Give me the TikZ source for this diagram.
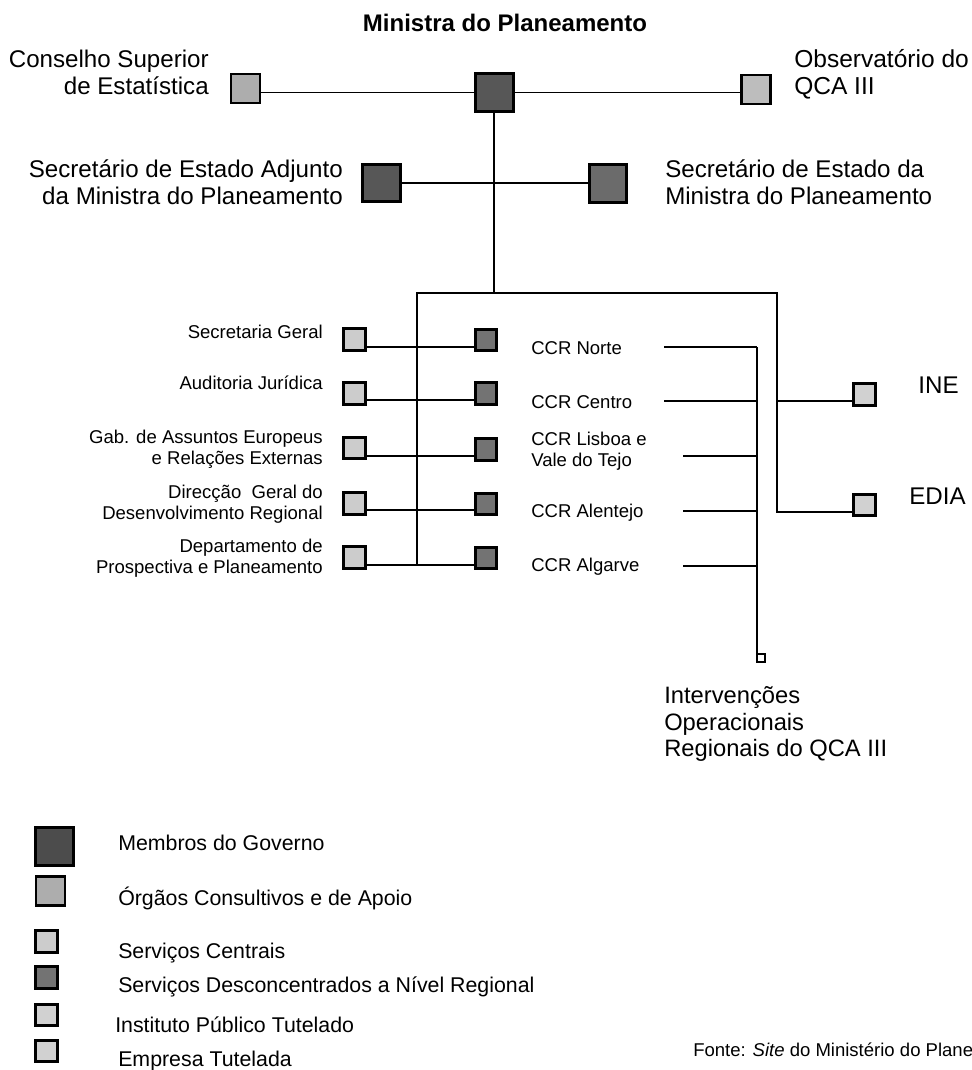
\documentclass[tikz,border=0pt]{standalone}
\usepackage{fontspec}
\setmainfont{Liberation Sans}
\tikzset{
  x=0.75pt,y=-0.75pt,
  box/.style={draw=black,line width=1.9pt,inner sep=0pt,outer sep=0pt,minimum width=(#1-2.5)*0.75pt,minimum height=(#1-2.5)*0.75pt},
  gov/.style={box=40,fill=black!66},
  gov2/.style={box=40,fill=black!58},
  cons/.style={box=31.5,fill=black!32},
  cent/.style={box=24,fill=black!20},
  reg/.style={box=24,fill=black!55},
  pub/.style={box=24,fill=black!18},
  conn/.style={line width=1.35pt,black},
  big/.style={font=\fontsize{18.1}{20}\selectfont,inner sep=0pt,align=left},
  bigr/.style={font=\fontsize{18.1}{20}\selectfont,inner sep=0pt,align=right},
  small/.style={font=\fontsize{13.9}{15.8}\selectfont,inner sep=0pt,align=right},
  smallr/.style={font=\fontsize{13.9}{15.8}\selectfont,inner sep=0pt,align=left},
  leg/.style={font=\fontsize{16}{18}\selectfont,inner sep=0pt,anchor=west},
}
\begin{document}
\begin{tikzpicture}
\useasboundingbox (0,0) rectangle (971,1070);
% top
\node[bigr,font=\fontsize{18}{20}\selectfont\bfseries,anchor=center] (title) at (505,23) {Ministra do Planeamento};
\node[cons] (csup) at (245.5,88.5) {};
\node[gov] (min) at (494.5,92.5) {};
\node[cons,fill=black!26] (obs) at (756,89.5) {};
\node[gov] (se1) at (381.5,183) {};
\node[gov2] (se2) at (608,183.5) {};
\node[bigr,anchor=east] (tcsup) at (209,72.5) {Conselho Superior\\de Estatística};
\node[big,font=\fontsize{18.4}{20}\selectfont,anchor=west] (tobs) at (794,74) {Observatório do\\QCA III};
\node[bigr,anchor=east] (tse1) at (343,182) {Secretário de Estado Adjunto\\da Ministra do Planeamento};
\node[big,anchor=west] (tse2) at (665,182) {Secretário de Estado da\\Ministra do Planeamento};
% joints
\coordinate (j1) at (494,183);
\coordinate (j2) at (494,293);
\coordinate (tl) at (417,293);
\coordinate (tr) at (777,293);
\coordinate (bl) at (417,565);
\coordinate (br) at (777,512);
\coordinate (ine j) at (777,401);
\draw[conn] (csup.east |- min.west) -- (min.west);
\draw[conn] (min.east) -- (obs.west |- min.east);
\draw[conn] (min.south -| j1) -- (j2);
\draw[conn] (se1.east |- j1) -- (se2.west |- j1);
\draw[conn,line cap=rect] (bl) -- (tl) -- (tr) -- (br);
% left column
\node[cent] (a1) at (354.5,339.5) {};
\node[cent] (a2) at (354.5,393.5) {};
\node[cent] (a3) at (354.5,448) {};
\node[cent] (a4) at (354.5,503.5) {};
\node[cent] (a5) at (354.5,557.5) {};
\node[reg] (b1) at (486,340) {};
\node[reg] (b2) at (486,393.5) {};
\node[reg] (b3) at (486,449.5) {};
\node[reg] (b4) at (486,504) {};
\node[reg] (b5) at (486,558) {};
\foreach \i/\y in {1/347,2/400,3/456,4/510,5/565}{
  \draw[conn] (a\i.east |- 0,\y) -- (b\i.west |- 0,\y);
}
\node[small,anchor=east] (ta1) at (323,332) {Secretaria Geral};
\node[small,anchor=east] (ta2) at (323,383) {Auditoria Jurídica};
\node[small,anchor=east] (ta3) at (323,449) {Gab. de Assuntos Europeus\\e Relações Externas};
\node[small,anchor=east] (ta4) at (323,504.5) {Direcção\ \ Geral do\\Desenvolvimento Regional};
\node[small,anchor=east] (ta5) at (323,558) {Departamento de\\Prospectiva e Planeamento};
\node[smallr,anchor=west] (tb1) at (531,348) {CCR Norte};
\node[smallr,anchor=west] (tb2) at (531,402) {CCR Centro};
\node[smallr,anchor=west] (tb3) at (531,451.5) {CCR Lisboa e\\Vale do Tejo};
\node[smallr,anchor=west] (tb4) at (531,513) {CCR Alentejo};
\node[smallr,anchor=west] (tb5) at (531,567) {CCR Algarve};
% right
\node[pub] (ine) at (864.5,394.5) {};
\node[pub] (edia) at (864.5,505) {};
\node[big,anchor=center] (tine) at (938.5,385) {INE};
\node[big,anchor=center] (tedia) at (937.5,496) {EDIA};
\draw[conn] (ine j) -- (ine.west |- ine j);
\draw[conn] (br) -- (edia.west |- br);
% CCR bus
\node[draw=black,line width=1.3pt,inner sep=0pt,minimum width=6pt,minimum height=6pt] (end) at (761,658) {};
\coordinate (c1) at (757,347);
\coordinate (c2) at (757,653);
\draw[conn] (c1) -- (c2);
\foreach \x/\y in {664/347,664/401,683/456,683/511,683/566}{
  \draw[conn] (\x,\y) -- (757,\y);
}
\node[big,font=\fontsize{17.8}{19.6}\selectfont,anchor=west] (tint) at (664,724) {Intervenções\\Operacionais\\Regionais do QCA III};
% legend
\node[box=40,fill=black!70] (l1) at (54.5,846.5) {};
\node[cons] (l2) at (50.5,891) {};
\node[cent] (l3) at (46.5,941.5) {};
\node[reg] (l4) at (46.5,977.5) {};
\node[pub] (l5) at (46.5,1015) {};
\node[pub] (l6) at (46.5,1051) {};
\node[leg] (tl1) at (118,843) {Membros do Governo};
\node[leg] (tl2) at (118,898) {Órgãos Consultivos e de Apoio};
\node[leg] (tl3) at (118,953) {Serviços Centrais};
\node[leg] (tl4) at (118,987) {Serviços Desconcentrados a Nível Regional};
\node[leg] (tl5) at (115,1025) {Instituto Público Tutelado};
\node[leg] (tl6) at (118,1061) {Empresa Tutelada};
\node[small,anchor=west,align=left] (src) at (693,1050) {Fonte: \textit{Site} do Ministério do Plane};
\end{tikzpicture}
\end{document}
